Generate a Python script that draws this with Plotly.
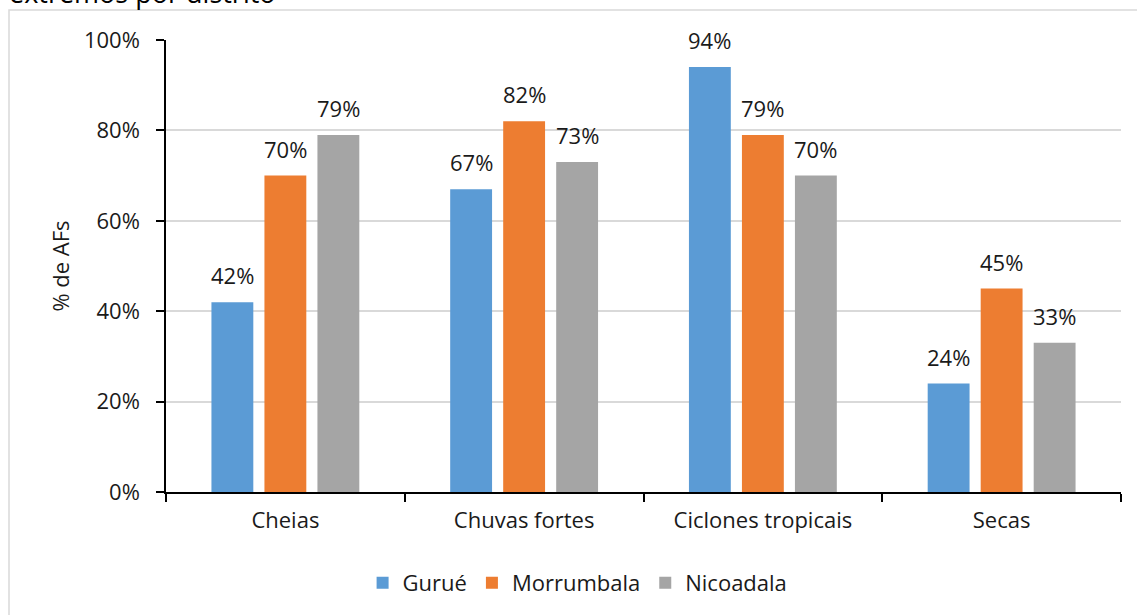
import plotly.graph_objects as go

# Share of households (AFs) reporting each extreme event, by district
categories = ["Cheias", "Chuvas fortes", "Ciclones tropicais", "Secas"]
gurue = [42, 67, 94, 24]
morrumbala = [70, 82, 79, 45]
nicoadala = [79, 73, 70, 33]
y_ticks = [0, 20, 40, 60, 80, 100]

series = [
    ("Gurué", gurue, "#5B9BD5"),
    ("Morrumbala", morrumbala, "#ED7D31"),
    ("Nicoadala", nicoadala, "#A5A5A5"),
]

FONT = "Open Sans"
FS = 22
TXT = "#1a1a1a"

W, H = 1137, 615
ML, MR, MT, MB = 166, 16, 40, 123
PW, PH = W - ML - MR, H - MT - MB
BARGAP = 0.334

fig = go.Figure()
for name, vals, color in series:
    fig.add_trace(go.Bar(
        name=name,
        x=categories,
        y=vals,
        marker=dict(color=color, line=dict(width=0)),
    ))

# value labels above each bar, shifted to the bar's slot inside its group
slot_px = PW / len(categories) * (1 - BARGAP) / len(series)
labels = []
for i, (name, vals, color) in enumerate(series):
    for cat, v in zip(categories, vals):
        labels.append(dict(
            x=cat, y=v, xref="x", yref="y",
            text=f"{v}%",
            showarrow=False,
            xanchor="center", yanchor="bottom",
            xshift=(i - 1) * slot_px,
            yshift=10,
            font=dict(family=FONT, size=FS, color=TXT),
        ))


def px_x(x):
    return (x - ML) / PW


def px_y(y):
    return 1 - (y - MT) / PH


fig.update_layout(
    width=W,
    height=H,
    margin=dict(l=ML, r=MR, t=MT, b=MB),
    paper_bgcolor="white",
    plot_bgcolor="white",
    barmode="group",
    bargap=BARGAP,
    bargroupgap=0.21,
    font=dict(family=FONT, size=FS, color=TXT),
    showlegend=True,
    legend=dict(
        orientation="h",
        xref="container",
        x=0.508,
        xanchor="center",
        yref="container",
        y=1 - 583 / H,
        yanchor="middle",
        font=dict(family=FONT, size=FS, color=TXT),
        itemwidth=30,
        traceorder="normal",
    ),
    xaxis=dict(
        type="category",
        showline=True,
        linecolor="black",
        linewidth=1.5,
        ticks="outside",
        tickson="boundaries",
        ticklen=8,
        tickcolor="black",
        tickwidth=1.5,
        showgrid=False,
        tickfont=dict(family=FONT, size=FS, color=TXT),
        ticklabelstandoff=8,
    ),
    yaxis=dict(
        range=[0, 100],
        tickmode="array",
        tickvals=y_ticks,
        ticktext=[f"{t}%" for t in y_ticks],
        showline=True,
        linecolor="black",
        linewidth=1.5,
        ticks="outside",
        ticklen=8,
        tickcolor="black",
        tickwidth=1.5,
        showgrid=True,
        gridcolor="#D9D9D9",
        gridwidth=1.5,
        zeroline=False,
        tickfont=dict(family=FONT, size=FS, color=TXT),
        ticklabelstandoff=12,
        title=dict(text="% de AFs", font=dict(family=FONT, size=FS, color=TXT), standoff=8),
    ),
    shapes=[
        # chart-area frame
        dict(
            type="rect",
            xref="paper",
            yref="paper",
            x0=px_x(9),
            x1=px_x(W + 20),
            y0=px_y(H + 20),
            y1=px_y(10),
            line=dict(color="#D9D9D9", width=1.5),
            fillcolor="rgba(0,0,0,0)",
            layer="below",
        )
    ],
    annotations=labels + [
        dict(
            text="extremos por distrito",
            xref="paper",
            yref="paper",
            x=px_x(7),
            y=px_y(13),
            xanchor="left",
            yanchor="bottom",
            showarrow=False,
            font=dict(family=FONT, size=27, color="#000000"),
        )
    ],
)

fig.write_html("out.html")
